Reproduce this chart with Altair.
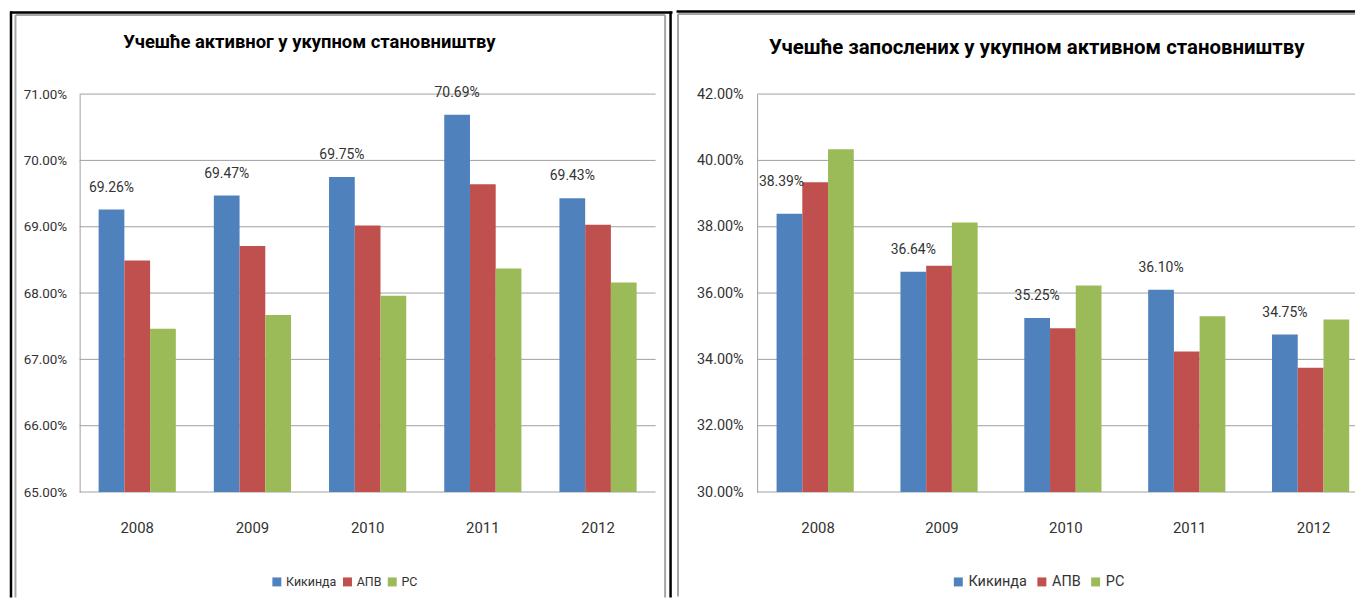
import altair as alt
import pandas as pd

# ---- data ----
years = ["2008", "2009", "2010", "2011", "2012"]
series = ["Кикинда", "АПВ", "РС"]
colors = ["#4F81BD", "#C0504D", "#9BBB59"]

active_kikinda = [69.26, 69.47, 69.75, 70.69, 69.43]
active_apv = [68.49, 68.71, 69.02, 69.64, 69.03]
active_rs = [67.46, 67.67, 67.96, 68.37, 68.16]

empl_kikinda = [38.39, 36.64, 35.25, 36.10, 34.75]
empl_apv = [39.34, 36.82, 34.94, 34.24, 33.75]
empl_rs = [40.34, 38.13, 36.23, 35.30, 35.20]

left_ticks = [65, 66, 67, 68, 69, 70, 71]
right_ticks = [30, 32, 34, 36, 38, 40, 42]

title_left = "Учешће активног у укупном становништву"
title_right = "Учешће запослених у укупном активном становништву"

FONT = "Roboto, sans-serif"
TXT = "#333333"
GRID = "#A0A0A0"
FRAME = "#A6A6A6"
H = 400
BOTTOM = 506


def long_df(k, a, r):
    rows = []
    for i, y in enumerate(years):
        for s, arr in zip(series, (k, a, r)):
            rows.append({"year": y, "series": s, "value": arr[i]})
    return pd.DataFrame(rows)


ONE = pd.DataFrame({"a": [0]})


def vrule(x, y1, y2, color, w):
    return alt.Chart(ONE).mark_rule(color=color, strokeWidth=w).encode(
        x=alt.value(x), y=alt.value(y1), y2=alt.value(y2))


def hrule(y, x1, x2, color, w):
    return alt.Chart(ONE).mark_rule(color=color, strokeWidth=w).encode(
        y=alt.value(y), x=alt.value(x1), x2=alt.value(x2))


def panel(df, dom, ticks, width, xscale, ypad, yfs, title, tfs, tx, ty,
          lx, ly, lfs, lcp, deco, special=None):
    X = alt.X("year:N", sort=years, scale=alt.Scale(**xscale),
              axis=alt.Axis(title=None, domain=False, ticks=False,
                            labelAngle=0, labelPadding=29, grid=False,
                            labelFontSize=15))
    XO = alt.XOffset("series:N", sort=series,
                     scale=alt.Scale(domain=series, paddingInner=0,
                                     paddingOuter=0))
    Y = alt.Y("value:Q",
              scale=alt.Scale(domain=dom, zero=False, nice=False),
              axis=alt.Axis(title=None, values=ticks, grid=False,
                            ticks=False, domain=True, labelPadding=ypad,
                            labelFontSize=yfs,
                            labelExpr="format(datum.value, '.2f') + '%'"))
    grid = alt.Chart(pd.DataFrame({"value": ticks})).mark_rule(
        color=GRID, strokeWidth=1).encode(
        y=Y, x=alt.value(0), x2=alt.value(width))
    base = alt.Chart(df).encode(x=X, xOffset=XO, y=Y)
    bars = base.mark_bar().encode(
        y2=alt.datum(dom[0]),
        color=alt.Color("series:N", sort=series,
                        scale=alt.Scale(domain=series, range=colors),
                        legend=alt.Legend(title=None, orient="none",
                                          legendX=lx, legendY=ly,
                                          direction="horizontal",
                                          symbolType="square",
                                          symbolSize=81,
                                          symbolStrokeWidth=0,
                                          labelOffset=3,
                                          labelFontSize=lfs,
                                          columnPadding=lcp,
                                          padding=0)),
    )
    lab = base.transform_filter(alt.datum.series == series[0]).transform_calculate(
        label="format(datum.value, '.2f') + '%'")
    if special is None:
        labels = lab.mark_text(dy=-22, fontSize=14, color=TXT, font=FONT).encode(
            text="label:N")
        layers = [bars, labels]
    else:
        sy, sdx, sdy = special
        labels = lab.transform_filter(alt.datum.year != sy).mark_text(
            dy=-22, fontSize=14, color=TXT, font=FONT).encode(text="label:N")
        labels2 = lab.transform_filter(alt.datum.year == sy).mark_text(
            dx=sdx, dy=sdy, fontSize=14, color=TXT, font=FONT).encode(text="label:N")
        layers = [bars, labels, labels2]
    ttl = alt.Chart(ONE).mark_text(
        text=title, font=FONT, fontSize=tfs, fontWeight="bold", color="#000000",
        align="center", baseline="middle").encode(x=alt.value(tx), y=alt.value(ty))
    return alt.layer(*(deco + [grid] + layers + [ttl])).properties(
        width=width, height=H)


# left panel (plot origin ~ page 78, 91)
deco_left = [
    vrule(-69, -83, BOTTOM, "#000000", 2.5),
    hrule(-82, -70, 596, "#000000", 2.5),
    vrule(594, -83, BOTTOM, "#000000", 2.5),
    vrule(-64.5, -79.5, BOTTOM, FRAME, 2),
    vrule(588.5, -79.5, BOTTOM, FRAME, 2),
    hrule(-79.5, -64.5, 588.5, FRAME, 2),
]
left = panel(long_df(active_kikinda, active_apv, active_rs), [65, 71],
             left_ticks, 579, dict(paddingInner=0.33, paddingOuter=0.165),
             13, 13.5, title_left, 18.5, 231, -52,
             192, 484, 12.5, 4, deco_left)

# right panel (plot origin ~ page 754, 92); the plot runs past the page edge,
# so its band scale keeps the wider step and leaves the cut-off side short
RW = 601
deco_right = [
    hrule(-83, -81, RW, "#000000", 2.5),
    vrule(-79.5, -80.5, BOTTOM - 1, FRAME, 2),
    hrule(-80.5, -79.5, RW, FRAME, 2),
]
right = panel(long_df(empl_kikinda, empl_apv, empl_rs), [30, 42],
              right_ticks, RW,
              dict(paddingInner=0.33, paddingOuter=0.0786, align=1),
              14, 14.5, title_right, 20.5, 281, -46,
              195, 483, 14.5, 7, deco_right, special=("2008", -8, -32))

chart = alt.hconcat(left, right, spacing=0).resolve_scale(
    color="independent").properties(padding=0).configure_view(
    stroke=None).configure_axis(
    labelFont=FONT, labelColor=TXT, domainColor=GRID,
    domainWidth=1).configure_legend(
    labelFont=FONT, labelColor=TXT)

chart.save("out.html", embed_options={"renderer": "svg", "actions": False})
